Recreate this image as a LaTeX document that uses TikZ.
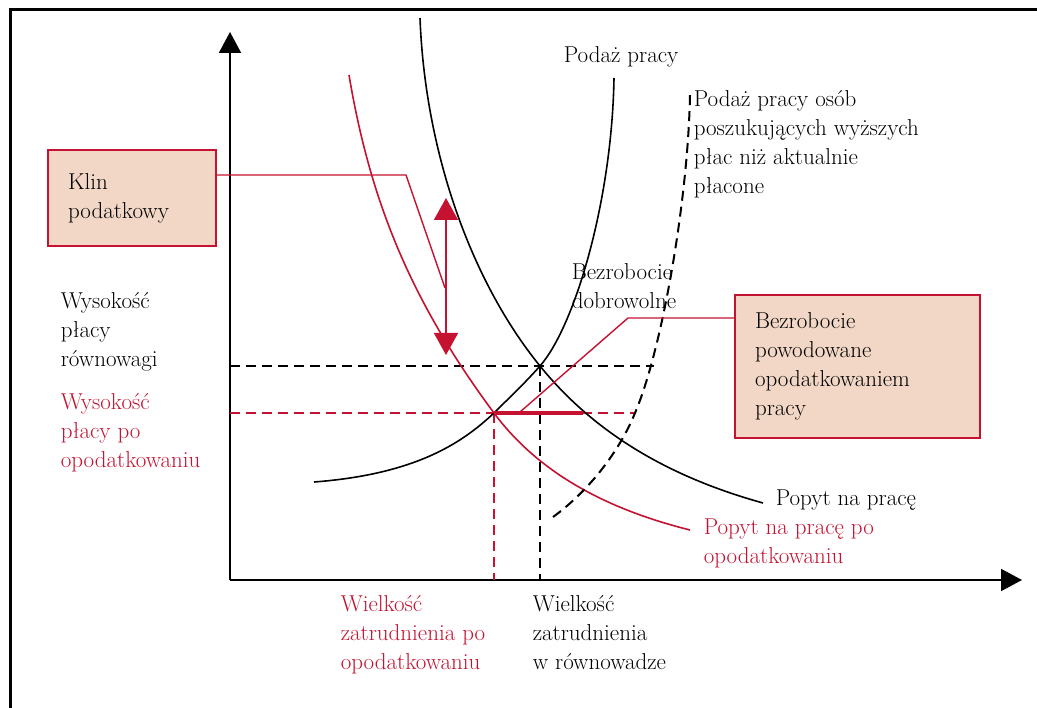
\documentclass[tikz,border=0pt]{standalone}
\usepackage{fontspec}
\usepackage{xcolor}
\usetikzlibrary{arrows.meta,positioning}
\definecolor{taxred}{RGB}{196,18,48}
\definecolor{boxfill}{RGB}{242,215,198}

\begin{document}
\begin{tikzpicture}[x=1pt,y=-1pt,line width=1.6pt,
    font=\fontsize{23}{29}\selectfont,
    txt/.style={inner sep=0pt,align=left,anchor=west},
    redtxt/.style={txt,text=taxred},
    curve/.style={line width=1.6pt},
    taxcurve/.style={curve,draw=taxred},
    guide/.style={line width=2pt,dash pattern=on 10pt off 6pt},
    taxguide/.style={line width=1.4pt,dash pattern=on 10pt off 6pt,draw=taxred},
    leader/.style={draw=taxred,line width=1.4pt},
    infobox/.style={draw=taxred,fill=boxfill,line width=1.6pt,align=left,
        inner xsep=20pt,inner ysep=0pt}]

    \useasboundingbox (0,0) rectangle (1037,708);
    \draw[line width=3pt] (10,708) -- (10,10) -- (1037,10);

    % axes
    \coordinate (O) at (230,580);
    \coordinate (ytop) at (230,32);
    \coordinate (xend) at (1022,580);
    \draw[line width=2pt,-{Triangle[width=22pt,length=21pt]}] (O) -- (ytop);
    \draw[line width=2pt,-{Triangle[width=22pt,length=21pt]}] (O) -- (xend);

    % equilibrium points
    \coordinate (E) at (540,366);
    \coordinate (T) at (494,413);

    % guides
    \draw[guide] (O |- E) -- (654,366);
    \draw[guide] (E) -- (E |- O);
    \draw[taxguide] (O |- T) -- (634,413);
    \draw[taxguide] (T) -- (T |- O);

    % supply
    \draw[curve] (314,482) .. controls (420,474) and (465,440) .. (T)
        .. controls (510,397) and (525,383) .. (E)
        .. controls (575,326) and (612,200) .. (614,78);
    % demand
    \draw[curve] (420,18) .. controls (425,150) and (470,280) .. (E)
        .. controls (600,440) and (680,480) .. (763,503);
    % demand after tax
    \draw[taxcurve] (349,75) .. controls (370,200) and (410,300) .. (T)
        .. controls (540,475) and (610,510) .. (690,530);
    % supply of those seeking higher wages
    \draw[guide] (553,517) .. controls (590,490) and (620,450) .. (635,413)
        .. controls (662,350) and (688,200) .. (690,95);

    % tax wedge and unemployment
    \coordinate (wedgetop) at (446,198);
    \coordinate (wedgebot) at (446,355);
    \draw[taxred,line width=1.6pt,{Triangle[width=24pt,length=22pt]}-{Triangle[width=24pt,length=22pt]}]
        (wedgetop) -- (wedgebot);
    \draw[taxred,line width=4.5pt] (T) -- (583,413);

    % boxes
    \node[infobox,text width=128pt,minimum height=96pt] (klin) at (132,198)
        {Klin\\podatkowy};
    \node[infobox,text width=205pt,minimum height=143pt] (bezrob) at (857.5,366.5)
        {Bezrobocie\\powodowane\\opodatkowaniem\\pracy};

    \coordinate (klinbend) at (406,175);
    \coordinate (klinend) at (445,288);
    \draw[leader] (klin.east |- klinbend) -- (klinbend) -- (klinend);
    \coordinate (bezrobbend) at (628,318);
    \coordinate (bezrobend) at (520,412);
    \draw[leader] (bezrob.west |- bezrobbend) -- (bezrobbend) -- (bezrobend);

    % labels
    \node[txt] (podaz) at (563,57) {Podaż pracy};
    \node[txt] (podazwyz) at (693,144) {Podaż pracy osób\\poszukujących wyższych\\płac niż aktualnie\\płacone};
    \node[txt] (dobrow) at (571,286) {Bezrobocie\\dobrowolne};
    \node[txt] (wysrown) at (60,332) {Wysokość\\płacy\\równowagi};
    \node[redtxt] (wyspo) at (60,433) {Wysokość\\płacy po\\opodatkowaniu};
    \node[txt] (popyt) at (775,500) {Popyt na pracę};
    \node[redtxt] (popytpo) at (703,543) {Popyt na pracę po\\opodatkowaniu};
    \node[redtxt] (wielpo) at (340,635) {Wielkość\\zatrudnienia po\\opodatkowaniu};
    \node[txt] (wielrown) at (532,633) {Wielkość\\zatrudnienia\\w równowadze};
\end{tikzpicture}
\end{document}
